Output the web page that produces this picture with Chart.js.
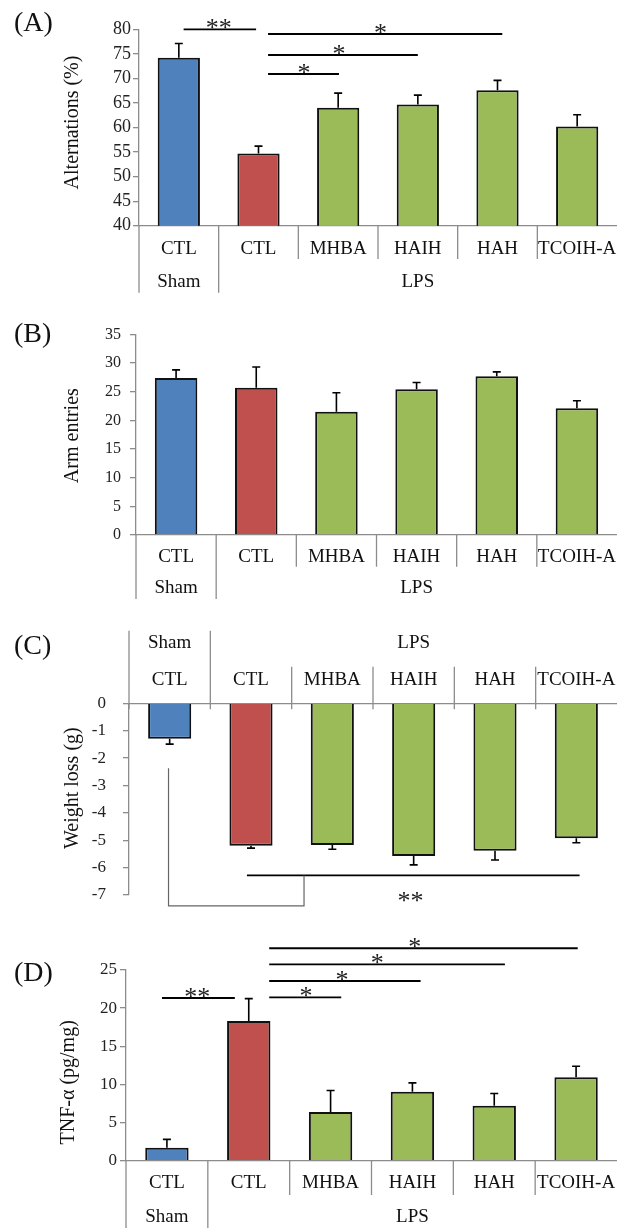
<!DOCTYPE html>
<html>
<head>
<meta charset="utf-8">
<script src="https://cdn.jsdelivr.net/npm/chart.js@4.4.1/dist/chart.umd.min.js"></script>
<style>
  body { margin: 0; background: #fff; }
  .page { position: relative; width: 617px; height: 1228px; overflow: hidden; }
  .panel { position: absolute; left: 0; width: 617px; }
  .tag { position: absolute; left: 14px; font: 28px/28px "Liberation Serif", serif; color: #111; }
</style>
</head>
<body>
<div class="page">
  <div class="panel" style="top:0;height:300px"><canvas id="chartA"></canvas></div>
  <div class="panel" style="top:300px;height:305px"><canvas id="chartB"></canvas></div>
  <div class="panel" style="top:605px;height:310px"><canvas id="chartC"></canvas></div>
  <div class="panel" style="top:915px;height:313px"><canvas id="chartD"></canvas></div>
  <div class="tag" style="top:8px">(A)</div>
  <div class="tag" style="top:319px">(B)</div>
  <div class="tag" style="top:631px">(C)</div>
  <div class="tag" style="top:958px">(D)</div>
</div>
<script>
// categories and groups
const categories = ["CTL", "CTL", "MHBA", "HAIH", "HAH", "TCOIH-A"];
const groupLabels = ["Sham", "LPS"];
const groupSizes = [1, 5];
const barColors = ["#4F81BD", "#C0504D", "#9BBB59", "#9BBB59", "#9BBB59", "#9BBB59"];

// (A) Y-maze alternations
const alternations = [74.2, 54.7, 64.0, 64.7, 67.6, 60.2];
const alternationsErr = [2.9, 1.5, 3.0, 1.9, 2.0, 2.4];
// (B) arm entries
const armEntries = [27.4, 25.7, 21.5, 25.4, 27.7, 22.1];
const armEntriesErr = [1.4, 3.6, 3.3, 1.2, 0.75, 1.3];
// (C) weight loss
const weightLoss = [-1.29, -5.2, -5.17, -5.58, -5.38, -4.93];
const weightLossErr = [0.2, 0.09, 0.16, 0.32, 0.34, 0.16];
// (D) TNF-alpha
const tnf = [1.7, 18.3, 6.4, 9.05, 7.2, 10.93];
const tnfErr = [1.1, 2.95, 2.8, 1.15, 1.6, 1.45];

// significance marks, in category index / value units
const sigA = [
  { from: 0.06, to: 0.97, level: 80, star: 0.5, text: "**" },
  { from: 1.12, to: 4.06, level: 79.04, star: 2.53, text: "*" },
  { from: 1.12, to: 3.0, level: 74.77, star: 2.01, text: "*" },
  { from: 1.12, to: 2.01, level: 70.9, star: 1.57, text: "*" }
];
const sigC = [
  { from: 0.95, to: 5.04, level: -6.285 }
];
const bracketC = [[1.652, -6.285], [1.652, -7.4], [-0.014, -7.4], [-0.014, -2.37]];
const starC = { x: 2.96, y: -7.06, text: "**" };
const sigD = [
  { from: -0.06, to: 0.83, level: 21.33, star: 0.37, text: "**" },
  { from: 1.25, to: 2.13, level: 21.42, star: 1.7, text: "*" },
  { from: 1.25, to: 3.1, level: 23.56, star: 2.14, text: "*" },
  { from: 1.25, to: 4.13, level: 25.75, star: 2.57, text: "*" },
  { from: 1.25, to: 5.02, level: 27.85, star: 3.03, text: "*" }
];

const SERIF = '"Liberation Serif", "Times New Roman", serif';
Chart.defaults.font.family = SERIF;
Chart.defaults.color = "#222";
const AXIS = "#8c8c8c";

// error bars, category dividers, group row, significance lines, y title
const panelPlugin = {
  id: "panel",
  afterDatasetsDraw(chart) {
    const { ctx } = chart;
    const ds = chart.data.datasets[0];
    const y = chart.scales.y;
    ctx.save();
    ctx.strokeStyle = "#000";
    ctx.lineWidth = 1.6;
    chart.getDatasetMeta(0).data.forEach((bar, i) => {
      const v = ds.data[i];
      const tip = y.getPixelForValue(v + Math.sign(v) * ds.errors[i]);
      ctx.beginPath();
      ctx.moveTo(bar.x, bar.y);
      ctx.lineTo(bar.x, tip);
      ctx.moveTo(bar.x - 4, tip);
      ctx.lineTo(bar.x + 4, tip);
      ctx.stroke();
    });
    ctx.restore();
  },
  afterDraw(chart, args, o) {
    const { ctx, chartArea: ca } = chart;
    const x = chart.scales.x, y = chart.scales.y;
    const half = (x.getPixelForValue(1) - x.getPixelForValue(0)) / 2;
    const edge = o.top ? ca.top : ca.bottom;
    const dir = o.top ? -1 : 1;
    ctx.save();

    // dividers under / over the category axis
    const longAt = [0];
    let acc = 0;
    groupSizes.forEach(n => { acc += n; longAt.push(acc); });
    ctx.strokeStyle = AXIS;
    ctx.lineWidth = 1.3;
    for (let i = 0; i < categories.length; i++) {
      const px = x.getPixelForValue(i) - half;
      const len = longAt.includes(i) ? o.longLen : o.shortLen;
      ctx.beginPath();
      ctx.moveTo(px, edge - dir * o.overshoot);
      ctx.lineTo(px, edge + dir * len);
      ctx.stroke();
    }

    // group labels
    ctx.fillStyle = "#111";
    ctx.font = "19px " + SERIF;
    ctx.textAlign = "center";
    ctx.textBaseline = "middle";
    let start = 0;
    groupLabels.forEach((g, k) => {
      const end = start + groupSizes[k];
      const x0 = x.getPixelForValue(start) - half;
      const x1 = Math.min(x.getPixelForValue(end - 1) + half, ca.right);
      ctx.fillText(g, (x0 + x1) / 2, edge + dir * o.groupRow);
      start = end;
    });

    // significance
    ctx.strokeStyle = "#000";
    ctx.lineWidth = 1.8;
    ctx.font = "26px " + SERIF;
    ctx.fillStyle = "#222";
    ctx.textBaseline = "alphabetic";
    (o.sig || []).forEach(s => {
      const ly = y.getPixelForValue(s.level);
      ctx.beginPath();
      ctx.moveTo(x.getPixelForValue(s.from), ly);
      ctx.lineTo(x.getPixelForValue(s.to), ly);
      ctx.stroke();
      if (s.text) ctx.fillText(s.text, x.getPixelForValue(s.star), ly + 7);
    });
    if (o.bracket) {
      ctx.strokeStyle = "#666";
      ctx.lineWidth = 1.2;
      ctx.beginPath();
      o.bracket.forEach((p, k) => {
        const px = x.getPixelForValue(p[0]), py = y.getPixelForValue(p[1]);
        if (k === 0) ctx.moveTo(px, py); else ctx.lineTo(px, py);
      });
      ctx.stroke();
    }
    if (o.starNote) {
      ctx.fillText(o.starNote.text, x.getPixelForValue(o.starNote.x), y.getPixelForValue(o.starNote.y) + 12);
    }

    // y axis title
    ctx.translate(o.titleX, (ca.top + ca.bottom) / 2 + o.titleShift);
    ctx.rotate(-Math.PI / 2);
    ctx.font = "20px " + SERIF;
    ctx.textBaseline = "middle";
    ctx.fillStyle = "#111";
    ctx.fillText(o.title, 0, 0);
    ctx.restore();
  }
};

function makePanel(id, values, errors, cfg) {
  return new Chart(document.getElementById(id), {
    type: "bar",
    data: {
      labels: categories,
      datasets: [{
        data: values,
        errors: errors,
        backgroundColor: barColors,
        borderColor: "#111",
        borderWidth: 2,
        barPercentage: 0.53,
        categoryPercentage: 1
      }]
    },
    options: {
      responsive: true,
      maintainAspectRatio: false,
      animation: false,
      layout: { autoPadding: false, padding: { top: cfg.padTop, bottom: cfg.padBottom, left: 0, right: 0 } },
      scales: {
        x: {
          position: cfg.top ? "top" : "bottom",
          grid: { display: false, drawTicks: false },
          border: { color: AXIS, width: 1.3 },
          ticks: { font: { size: 19 }, color: "#111", padding: cfg.labelPad, autoSkip: false, maxRotation: 0 },
          afterFit: s => { s.height = cfg.xHeight; s.paddingLeft = 0; s.paddingRight = 0; }
        },
        y: {
          min: cfg.min,
          max: cfg.max,
          grid: { drawOnChartArea: false, tickLength: 6, color: AXIS, lineWidth: 1.3 },
          border: { color: AXIS, width: 1.3 },
          ticks: { stepSize: cfg.step, autoSkip: false, font: { size: cfg.tickSize }, padding: cfg.tickPad },
          afterFit: s => { s.width = cfg.yWidth; s.paddingTop = 0; s.paddingBottom = 0; }
        }
      },
      plugins: {
        legend: { display: false },
        tooltip: { enabled: false },
        panel: {
          top: !!cfg.top,
          shortLen: cfg.shortLen,
          longLen: cfg.longLen,
          overshoot: cfg.overshoot || 0,
          groupRow: cfg.groupRow,
          sig: cfg.sig,
          bracket: cfg.bracket,
          starNote: cfg.starNote,
          title: cfg.title,
          titleX: cfg.titleX,
          titleShift: cfg.titleShift
        }
      }
    },
    plugins: [panelPlugin]
  });
}

makePanel("chartA", alternations, alternationsErr, {
  min: 40, max: 80, step: 5, tickSize: 18, tickPad: 2, yWidth: 139,
  padTop: 29.3, padBottom: 0, xHeight: 74.3, labelPad: 11.9,
  shortLen: 33.3, longLen: 67, groupRow: 56,
  sig: sigA, title: "Alternations (%)", titleX: 73, titleShift: -5
});

makePanel("chartB", armEntries, armEntriesErr, {
  min: 0, max: 35, step: 5, tickSize: 16, tickPad: 9, yWidth: 136,
  padTop: 34.3, padBottom: 0, xHeight: 70, labelPad: 10.3,
  shortLen: 31.7, longLen: 64, groupRow: 53,
  title: "Arm entries", titleX: 73, titleShift: 1
});

makePanel("chartC", weightLoss, weightLossErr, {
  top: true, min: -7, max: 0, step: 1, tickSize: 17, tickPad: 17, yWidth: 129,
  padTop: 0, padBottom: 20, xHeight: 98.3, labelPad: 12.3,
  shortLen: 36.6, longLen: 72.6, overshoot: 6, groupRow: 60.6,
  sig: sigC, bracket: bracketC, starNote: starC,
  title: "Weight loss (g)", titleX: 73, titleShift: -11
});

makePanel("chartD", tnf, tnfErr, {
  min: 0, max: 25, step: 5, tickSize: 17, tickPad: 3, yWidth: 126,
  padTop: 55, padBottom: 0, xHeight: 67.3, labelPad: 11.3,
  shortLen: 34.3, longLen: 70, groupRow: 56,
  sig: sigD, title: "TNF-\u03b1 (pg/mg)", titleX: 69, titleShift: 17
});
</script>
</body>
</html>
